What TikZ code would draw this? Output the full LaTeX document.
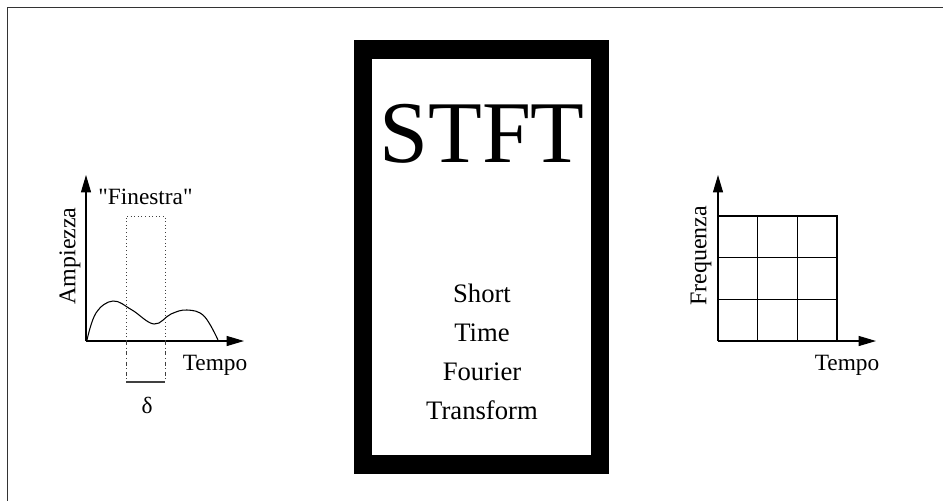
\documentclass[tikz,border=0pt]{standalone}
\usepackage{fontspec}
\setmainfont{Liberation Serif}
\newfontfamily\qfont{Liberation Serif}[Ligatures=TeXOff]
\usetikzlibrary{arrows.meta}
\begin{document}
\begin{tikzpicture}[x=0.75pt,y=-0.75pt,
  axis/.style={line width=0.8pt,-{Triangle[length=13pt,width=7.5pt]}},
  lbl/.style={inner sep=0pt,font=\fontsize{17.5}{20}\selectfont},
  sub/.style={inner sep=0pt,anchor=base,font=\fontsize{20}{24}\selectfont},
  gridline/.style={line width=0.8pt},
  win/.style={line width=0.7pt,black!75}]
\useasboundingbox (0,0) rectangle (943,501);
% frame
\coordinate (fa) at (943,7.5);
\coordinate (fo) at (7.5,7.5);
\coordinate (fb) at (7.5,501);
\draw[line width=0.8pt,black!80] (fa) -- (fo) -- (fb);
% STFT box
\node (box) [draw,line width=13.9pt,minimum width=237*0.75pt,minimum height=415*0.75pt,inner sep=0pt] at (481.5,257) {};
\node (title) [inner sep=0pt,font=\fontsize{66}{70}\selectfont] at (482,134) {STFT};
\node (l1) [sub] at (482,302) {Short};
\node (l2) [sub] at (482,341) {Time};
\node (l3) [sub] at (482,380) {Fourier};
\node (l4) [sub] at (482,419) {Transform};
% left plot
\coordinate (o1) at (86,341);
\coordinate (y1) at (86,175);
\coordinate (x1) at (244,341);
\draw[axis] (o1) -- (y1);
\draw[axis] (o1) -- (x1);
\draw[line width=0.8pt] plot[smooth,tension=0.65] coordinates {(87,340) (96,313) (113,301) (132,310) (154,324) (171,314) (187,310) (204,316) (218,340)};
\coordinate (wa) at (126,341);
\coordinate (wb) at (126,216);
\coordinate (wc) at (165,216);
\coordinate (wd) at (165,341);
\coordinate (we) at (126,382);
\coordinate (wf) at (165,382);
\draw[win,dotted] (wa) -- (wb) -- (wc) -- (wd);
\draw[win,dash dot] (wa) -- (we);
\draw[win,dash dot] (wd) -- (wf);
\draw[win,line width=0.9pt] (we) -- (wf);
\node (fin) [lbl] at (145.5,197) {\qfont "Finestra"};
\node (amp) [lbl,rotate=90,font=\fontsize{18}{20}\selectfont] at (70,256) {Ampiezza};
\node (t1) [lbl] at (215,365) {Tempo};
\node (delta) [lbl] at (147,405) {δ};
% right plot
\coordinate (o2) at (718,341);
\coordinate (y2) at (718,175);
\coordinate (x2) at (876,341);
\draw[axis] (o2) -- (y2);
\draw[axis] (o2) -- (x2);
\draw[gridline] (718,216) -- (837,216) -- (837,341);
\draw[gridline] (718,257.7) -- (837,257.7);
\draw[gridline] (718,299.3) -- (837,299.3);
\draw[gridline] (757.7,216) -- (757.7,341);
\draw[gridline] (797.3,216) -- (797.3,341);
\node (freq) [lbl,rotate=90,font=\fontsize{18}{20}\selectfont] at (701,256) {Frequenza};
\node (t2) [lbl] at (847,365) {Tempo};
\end{tikzpicture}
\end{document}
